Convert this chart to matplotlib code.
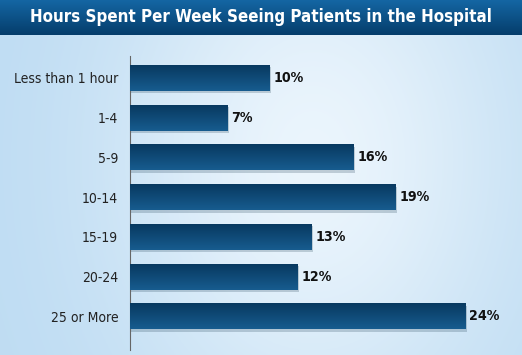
import numpy as np
import matplotlib
matplotlib.use("Agg")
import matplotlib.pyplot as plt

categories = ["Less than 1 hour", "1-4", "5-9", "10-14", "15-19", "20-24", "25 or More"]
values = [10, 7, 16, 19, 13, 12, 24]
title = "Hours Spent Per Week Seeing Patients in the Hospital"

plt.rcParams['font.family'] = ['DejaVu Sans']
plt.rcParams['font.stretch'] = 'condensed'

fig = plt.figure(figsize=(5.22, 3.55), dpi=100)

# background gradient
bg = fig.add_axes([0, 0, 1, 1])
bg.set_axis_off()
xx = np.linspace(0, 1, 300)
yy = np.linspace(0, 1, 200)
X, Y = np.meshgrid(xx, yy)
light = np.exp(-((X - 0.6) ** 2) / 0.15 - ((Y - 0.55) ** 2) / 0.6)
c0 = np.array([0.74, 0.86, 0.95])
c1 = np.array([0.92, 0.96, 0.99])
img = c0 + (c1 - c0) * light[..., None]
bg.imshow(img, extent=[0, 1, 0, 1], aspect='auto', origin='lower')
bg.set_xlim(0, 1)
bg.set_ylim(0, 1)

# title band
band = np.linspace(0, 1, 50)[:, None]
top = np.array([0.08, 0.40, 0.64])
bot = np.array([0.02, 0.24, 0.42])
bimg = top + (bot - top) * band[..., None]
bimg = np.repeat(bimg, 2, axis=1)
bg.imshow(bimg, extent=[0, 1, 1 - 35 / 355, 1], aspect='auto', origin='upper')
bg.text(0.5, 1 - 17 / 355, title, color='white', fontsize=12.2, fontweight='bold',
        ha='center', va='center')

ax = fig.add_axes([130 / 522, 5 / 355, 392 / 522, 294 / 355])
ax.patch.set_alpha(0)
ypos = np.arange(len(categories))
h = 0.655

# shadows
ax.barh(ypos + 0.06, np.array(values) + 0.1, height=h, left=0, color='#0a2a40', alpha=0.2, zorder=1)
bars = ax.barh(ypos, values, height=h, color='#0d4a78', zorder=2)
grad = np.linspace(0, 1, 50)[:, None]
gtop = np.array([0.03, 0.22, 0.37])
gbot = np.array([0.09, 0.36, 0.56])
gimg = gtop + (gbot - gtop) * grad[..., None]
gimg = np.repeat(gimg, 2, axis=1)
for b, v, y in zip(bars, values, ypos):
    im = ax.imshow(gimg, extent=[0, v, y + h / 2, y - h / 2], aspect='auto', origin='upper', zorder=3)
    im.set_clip_path(b)
    ax.text(v + 0.25, y, f"{v}%", va='center', ha='left', fontsize=10.2, fontweight='bold', color='#111111', zorder=4)

ax.set_xlim(0, 28.0)
ax.set_ylim(6.85, -0.554)
ax.set_yticks(ypos)
ax.set_yticklabels(categories, fontsize=10, color='#222222')
ax.tick_params(axis='y', length=0, pad=8.5)
ax.set_xticks([])
for s in ['top', 'right', 'bottom']:
    ax.spines[s].set_visible(False)
ax.spines['left'].set_color('#666666')
ax.spines['left'].set_linewidth(0.8)

fig.savefig("out.png", dpi=100)
